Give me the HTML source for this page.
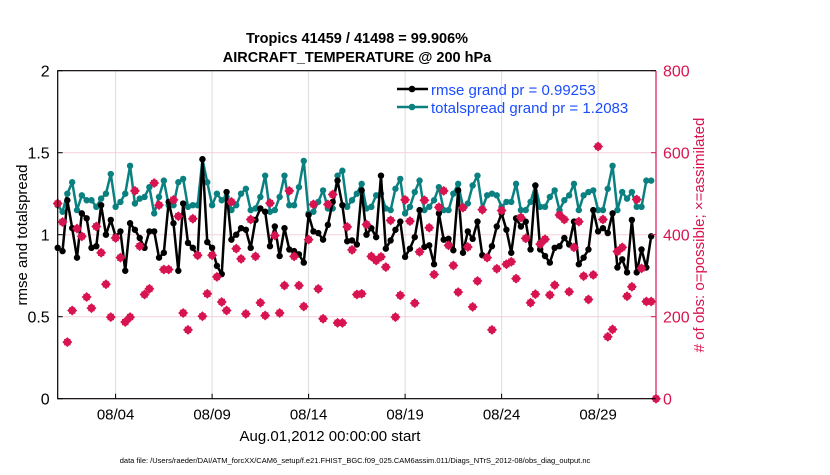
<!DOCTYPE html>
<html><head><meta charset="utf-8"><style>
body{margin:0;background:#fff;}
svg text{font-family:"Liberation Sans",Arial,sans-serif;}
</style></head><body>
<svg id="chart" width="830" height="470" viewBox="0 0 830 470" xmlns="http://www.w3.org/2000/svg">
<rect width="830" height="470" fill="#fff"/>
<text x="357" y="43" text-anchor="middle" font-size="14.5" font-weight="bold">Tropics 41459 / 41498 = 99.906%</text>
<text x="357" y="62" text-anchor="middle" font-size="14.5" font-weight="bold">AIRCRAFT_TEMPERATURE @ 200 hPa</text>
<g id="grid"></g>
<g id="marks"></g>
<g id="axes"></g>
<g>
<line x1="397" y1="89" x2="428" y2="89" stroke="#000" stroke-width="2.5"/><circle cx="412" cy="89" r="3.3" fill="#000"/>
<line x1="397" y1="107" x2="428" y2="107" stroke="#0b8080" stroke-width="2.5"/><circle cx="412" cy="107" r="3.3" fill="#0b8080"/>
<text x="431" y="95" font-size="15" fill="#1a4cff">rmse grand pr = 0.99253</text>
<text x="431" y="113" font-size="15" fill="#1a4cff">totalspread grand pr = 1.2083</text>
</g>
<text transform="translate(27,235) rotate(-90)" text-anchor="middle" font-size="15">rmse and totalspread</text>
<text transform="translate(704,235) rotate(-90)" text-anchor="middle" font-size="15" fill="#d81450"># of obs: o=possible; ×=assimilated</text>
<text x="330" y="441" text-anchor="middle" font-size="15">Aug.01,2012 00:00:00 start</text>
<text x="355" y="463" text-anchor="middle" font-size="7.5">data file: /Users/raeder/DAI/ATM_forcXX/CAM6_setup/f.e21.FHIST_BGC.f09_025.CAM6assim.011/Diags_NTrS_2012-08/obs_diag_output.nc</text>
</svg>
<script>
const rmse=[0.92,0.90,1.21,1.04,0.86,1.13,1.10,0.92,0.93,1.18,1.0,1.09,0.99,1.02,0.78,1.07,1.03,0.98,0.92,1.02,1.02,0.86,0.89,1.20,1.07,0.78,1.19,0.95,0.92,0.87,1.46,0.955,0.92,0.81,0.76,1.26,0.97,1.0,1.04,1.03,0.92,1.09,1.16,1.14,0.93,1.05,0.87,1.04,0.91,0.90,0.88,0.83,1.12,1.02,1.01,0.97,1.06,1.20,1.33,1.18,0.96,0.965,0.94,1.27,1.0,1.04,0.985,1.36,0.915,0.965,1.03,1.08,0.865,0.915,0.985,1.15,0.925,0.935,0.82,1.13,0.97,0.975,0.905,1.27,0.89,1.02,0.975,1.08,0.875,0.865,0.93,1.05,1.13,1.03,0.89,1.10,1.05,1.08,0.91,1.30,0.91,0.87,0.83,0.92,0.93,0.98,0.94,1.08,0.82,0.86,0.91,1.15,1.02,1.04,1.01,1.13,0.80,0.85,0.77,1.09,0.77,0.91,0.80,0.99];
const spread=[1.18,1.14,1.25,1.32,1.15,1.24,1.21,1.21,1.17,1.22,1.25,1.37,1.17,1.20,1.25,1.42,1.19,1.22,1.23,1.29,1.13,1.23,1.33,1.18,1.18,1.32,1.34,1.17,1.18,1.18,1.46,1.32,1.18,1.25,1.21,1.23,1.15,1.18,1.25,1.28,1.15,1.16,1.23,1.36,1.14,1.15,1.23,1.36,1.18,1.18,1.29,1.45,1.13,1.14,1.20,1.27,1.16,1.16,1.36,1.39,1.17,1.21,1.25,1.31,1.16,1.17,1.24,1.25,1.16,1.15,1.28,1.34,1.13,1.17,1.26,1.33,1.15,1.17,1.21,1.29,1.15,1.15,1.25,1.31,1.17,1.19,1.30,1.36,1.16,1.24,1.25,1.24,1.17,1.20,1.20,1.31,1.15,1.15,1.20,1.30,1.17,1.17,1.23,1.27,1.15,1.21,1.24,1.31,1.15,1.24,1.26,1.27,1.15,1.15,1.28,1.42,1.15,1.26,1.22,1.26,1.17,1.17,1.33,1.33];
const nobs=[476,431,138,215,415,396,248,221,420,356,279,199,392,344,187,199,507,372,254,268,526,472,315,315,485,445,209,168,439,350,201,256,350,297,236,215,480,366,341,207,437,347,234,203,477,398,209,276,507,347,276,225,388,474,268,195,474,498,185,185,419,363,254,256,425,347,337,346,321,435,199,252,485,433,233,358,484,417,303,467,507,374,325,260,466,370,224,287,461,344,168,317,459,328,334,293,442,391,234,255,377,389,253,277,448,437,261,369,432,299,242,302,615,437,151,169,359,369,250,273,486,318,237,237,0];
const leftTicks=[0,0.5,1,1.5,2];
const rightTicks=[0,200,400,600,800];
const dateTicks=[3,8,13,18,23,28];
const dateLabels=["08/04","08/09","08/14","08/19","08/24","08/29"];
const stepDays=0.25;

const X0=57.7,X1=656,Y0=398.7,Y1=70.7;
const xs=d=>X0+(X1-X0)*d/31;
const yL=v=>Y0-(Y0-Y1)*v/2;
const yR=v=>Y0-(Y0-Y1)*v/800;
const NS="http://www.w3.org/2000/svg";
function mk(tag,attrs,parent){const e=document.createElementNS(NS,tag);for(const k in attrs)e.setAttribute(k,attrs[k]);parent.appendChild(e);return e;}
const grid=document.getElementById('grid'),marks=document.getElementById('marks'),axes=document.getElementById('axes');

leftTicks.forEach(v=>{
  const l=mk('line',{x1:X0,x2:X1,y1:yL(v),y2:yL(v),stroke:'#f6d0dc','stroke-width':1},grid);
  
  
  const t=mk('text',{x:X0-8,y:yL(v)+6,'text-anchor':'end','font-size':16},axes);t.textContent=String(v);
  
  
  mk('line',{x1:X0,x2:X0+5,y1:yL(v),y2:yL(v),stroke:'#000'},axes);
});
rightTicks.forEach(v=>{
  const t=mk('text',{x:X1+7,y:yR(v)+6,'font-size':16,fill:'#d81450'},axes);t.textContent=String(v);
  
  
  mk('line',{x1:X1-5,x2:X1,y1:yR(v),y2:yR(v),stroke:'#d81450'},axes);
});
dateTicks.forEach((d,i)=>{
  const l=mk('line',{x1:xs(d),x2:xs(d),y1:Y1,y2:Y0,stroke:'#dcdcdc','stroke-width':1},grid);
  
  
  mk('line',{x1:xs(d),x2:xs(d),y1:Y0,y2:Y0-5,stroke:'#000'},axes);
  const t=mk('text',{x:xs(d),y:Y0+21,'text-anchor':'middle','font-size':15},axes);t.textContent=dateLabels[i];
  
  
});
mk('path',{d:`M${X1},${Y1}H${X0}V${Y0}H${X1}`,fill:'none',stroke:'#000','stroke-width':1.2},axes);
mk('line',{x1:X1,x2:X1,y1:Y1,y2:Y0,stroke:'#d81450','stroke-width':1.2},axes);

function series(arr,color,name){
  const pts=arr.map((v,i)=>[xs(i*stepDays),yL(v)]);
  const p=mk('polyline',{points:pts.map(p=>p.join(',')).join(' '),fill:'none',stroke:color,'stroke-width':2.5,'stroke-linejoin':'round'},marks);
  
  
  pts.forEach(pt=>{
    const c=mk('circle',{cx:pt[0],cy:pt[1],r:3.2,fill:color},marks);
    
    
  });
}
series(spread,'#0b8080','totalspread');
series(rmse,'#000','rmse');
nobs.forEach((v,i)=>{
  const x=xs(i*stepDays),y=yR(v);
  const g=mk('path',{d:`M${x},${y-5}L${x+5},${y}L${x},${y+5}L${x-5},${y}Z M${x-3.2},${y-3.2}h6.4v6.4h-6.4z`,fill:'#d81450'},marks);
  
  
});
</script>
</body></html>
